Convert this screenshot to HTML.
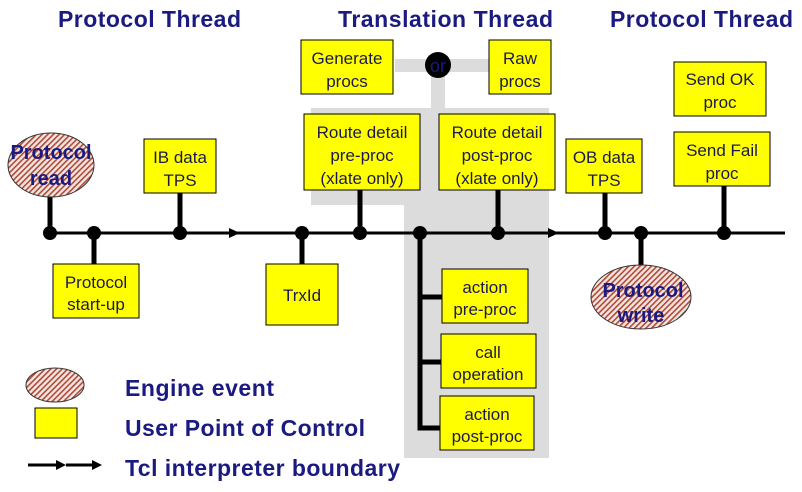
<!DOCTYPE html>
<html><head><style>
body{margin:0;background:#fff}
svg text{font-family:"Liberation Sans",Arial,sans-serif}
</style></head><body>
<svg width="802" height="487" viewBox="0 0 802 487" xmlns="http://www.w3.org/2000/svg">
<defs>
<pattern id="h" patternUnits="userSpaceOnUse" width="4" height="4" patternTransform="rotate(45)">
<rect width="4" height="4" fill="#f3e6e0"/><rect width="1.6" height="4" fill="#b04a3a"/>
</pattern>
</defs>
<g fill="#dcdcdc">
<rect x="311" y="108" width="238" height="97"/>
<rect x="404" y="205" width="145" height="253"/>
<rect x="395" y="59" width="94" height="13"/>
<rect x="431" y="72" width="14" height="36"/>
</g>
<g font-size="23" font-weight="bold" fill="#1a1a80">
<text x="58" y="27" textLength="183">Protocol Thread</text>
<text x="338" y="27" textLength="215">Translation Thread</text>
<text x="610" y="27" textLength="183">Protocol Thread</text>
</g>
<line x1="48" y1="233" x2="785" y2="233" stroke="#000" stroke-width="3"/>
<path d="M229 228 L240 233 L229 238 Z" fill="#000"/>
<path d="M548 228 L559 233 L548 238 Z" fill="#000"/>
<g stroke="#000" stroke-width="5">
<line x1="50" y1="195" x2="50" y2="233"/>
<line x1="94" y1="233" x2="94" y2="264"/>
<line x1="180" y1="193" x2="180" y2="233"/>
<line x1="302" y1="233" x2="302" y2="264"/>
<line x1="360" y1="190" x2="360" y2="233"/>
<line x1="498" y1="190" x2="498" y2="233"/>
<line x1="605" y1="193" x2="605" y2="233"/>
<line x1="641" y1="233" x2="641" y2="266"/>
<line x1="724" y1="186" x2="724" y2="233"/>
<polyline points="420,233 420,428 442,428" fill="none"/>
<line x1="420" y1="297" x2="442" y2="297"/>
<line x1="420" y1="362" x2="442" y2="362"/>
</g>
<g fill="#000">
<circle cx="50" cy="233" r="7"/><circle cx="94" cy="233" r="7"/><circle cx="180" cy="233" r="7"/>
<circle cx="302" cy="233" r="7"/><circle cx="360" cy="233" r="7"/><circle cx="420" cy="233" r="7"/>
<circle cx="498" cy="233" r="7"/><circle cx="605" cy="233" r="7"/><circle cx="641" cy="233" r="7"/>
<circle cx="724" cy="233" r="7"/>
<circle cx="438" cy="65" r="13"/>
</g>
<text x="438" y="72" font-size="18" fill="#1a1a80" text-anchor="middle">or</text>
<g fill="#ffff00" stroke="#000" stroke-width="1">
<rect x="144" y="139" width="72" height="54"/>
<rect x="53" y="264" width="86" height="54"/>
<rect x="266" y="264" width="72" height="61"/>
<rect x="304" y="114" width="116" height="76"/>
<rect x="439" y="114" width="116" height="76"/>
<rect x="301" y="40" width="92" height="54"/>
<rect x="489" y="40" width="62" height="54"/>
<rect x="566" y="139" width="76" height="54"/>
<rect x="674" y="62" width="92" height="54"/>
<rect x="674" y="132" width="96" height="54"/>
<rect x="442" y="269" width="86" height="54"/>
<rect x="441" y="334" width="95" height="54"/>
<rect x="440" y="396" width="94" height="54"/>
<rect x="35" y="408" width="42" height="30"/>
</g>
<g font-size="17" fill="#1a1a50" text-anchor="middle">
<text x="180" y="163">IB data</text><text x="180" y="186">TPS</text>
<text x="96" y="288">Protocol</text><text x="96" y="310">start-up</text>
<text x="302" y="301">TrxId</text>
<text x="362" y="138">Route detail</text><text x="362" y="161">pre-proc</text><text x="362" y="184">(xlate only)</text>
<text x="497" y="138">Route detail</text><text x="497" y="161">post-proc</text><text x="497" y="184">(xlate only)</text>
<text x="347" y="64">Generate</text><text x="347" y="87">procs</text>
<text x="520" y="64">Raw</text><text x="520" y="87">procs</text>
<text x="604" y="163">OB data</text><text x="604" y="186">TPS</text>
<text x="720" y="85">Send OK</text><text x="720" y="108">proc</text>
<text x="722" y="156">Send Fail</text><text x="722" y="179">proc</text>
<text x="485" y="293">action</text><text x="485" y="315">pre-proc</text>
<text x="488" y="358">call</text><text x="488" y="380">operation</text>
<text x="487" y="420">action</text><text x="487" y="442">post-proc</text>
</g>
<g stroke="#333" stroke-width="1" fill="url(#h)">
<ellipse cx="51" cy="165" rx="43" ry="32"/>
<ellipse cx="641" cy="297" rx="50" ry="32"/>
<ellipse cx="55" cy="385" rx="29" ry="17"/>
</g>
<g font-size="20" font-weight="bold" fill="#1a1a80" text-anchor="middle">
<text x="51" y="159">Protocol</text><text x="51" y="185">read</text>
<text x="643" y="297">Protocol</text><text x="641" y="322">write</text>
</g>
<g stroke="#000" stroke-width="3"><line x1="28" y1="465" x2="60" y2="465"/><line x1="66" y1="465" x2="96" y2="465"/></g>
<path d="M56 460 L66 465 L56 470 Z M92 460 L102 465 L92 470 Z" fill="#000"/>
<g font-size="23" font-weight="bold" fill="#1a1a80">
<text x="125" y="396" textLength="149">Engine event</text>
<text x="125" y="436" textLength="240">User Point of Control</text>
<text x="125" y="476" textLength="275">Tcl interpreter boundary</text>
</g>
</svg>
</body></html>
